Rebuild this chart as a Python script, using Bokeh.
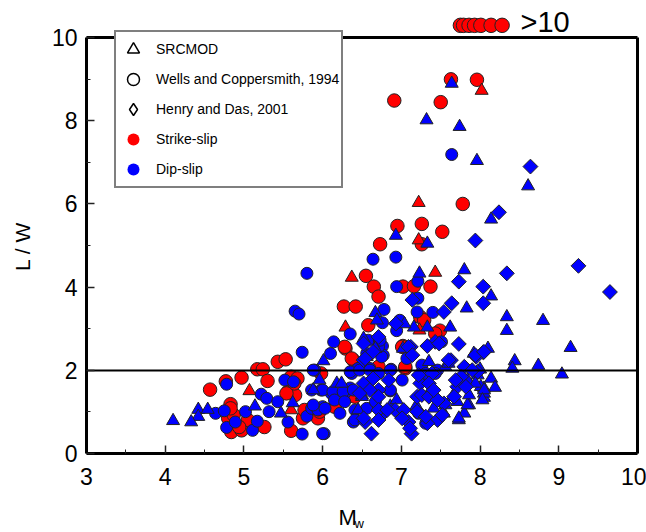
import math
from bokeh.plotting import figure
from bokeh.models import (Range1d, FixedTicker, LinearAxis, Label,
                          Legend, LegendItem)
from bokeh.embed import file_html
from bokeh.resources import INLINE

FONT = "Liberation Sans"
NAN = float("nan")

# ---------------- data ----------------
# Wells & Coppersmith, strike-slip, L/W > 10 (drawn above the frame)
ss_over_mw = [7.75, 7.79, 7.86, 7.93, 8.01, 8.14, 8.28]
ss_over_lw = [10.3, 10.3, 10.3, 10.3, 10.3, 10.3, 10.3]

# Wells & Coppersmith, strike-slip (red circles)
ss_wc_mw = [7.63, 7.96, 6.91, 7.50, 7.78, 6.95, 7.26, 7.52, 6.73, 7.26, 6.55, 6.65,
            6.71, 7.02, 7.16, 7.37, 7.24, 7.29, 7.49, 6.27, 6.42, 6.58, 6.29, 7.02,
            6.39, 7.05, 5.94, 5.43, 5.53, 5.17, 5.24, 5.30, 4.97, 4.77, 4.57, 5.60,
            5.56, 5.65, 4.83, 4.80, 4.87, 4.84, 4.97, 5.05, 5.26, 5.60, 5.75, 6.28,
            6.37, 5.98, 6.71, 7.05, 7.01, 7.43, 5.77, 5.96, 6.15, 6.41, 4.83, 4.94,
            5.68, 5.64, 5.54]
ss_wc_lw = [9.00, 8.99, 8.49, 8.45, 6.00, 5.47, 5.52, 5.33, 5.03, 5.03, 4.27, 4.01,
            3.77, 4.01, 4.02, 4.01, 3.28, 3.20, 2.95, 3.53, 3.53, 3.08, 2.52, 2.58,
            2.24, 2.04, 0.84, 2.20, 2.26, 2.02, 2.02, 1.74, 1.82, 1.73, 1.53, 1.84,
            1.48, 1.40, 1.18, 0.84, 0.92, 0.51, 0.55, 0.80, 0.63, 0.54, 0.84, 2.56,
            2.28, 1.92, 2.08, 2.08, 2.56, 2.88, 1.04, 1.00, 1.12, 1.36, 1.08, 0.63,
            1.80, 1.68, 1.44]

# SRCMOD, strike-slip (red triangles)
ss_src_mw = [8.02, 7.22, 7.22, 6.37, 7.43, 6.29, 7.23, 5.07, 5.60]
ss_src_lw = [8.73, 6.03, 5.13, 4.23, 4.35, 3.03, 2.96, 1.50, 1.04]

# Wells & Coppersmith, dip-slip (blue circles)
ds_wc_mw = [7.64, 6.64, 6.93, 6.94, 7.21, 7.40, 7.21, 7.20, 7.51, 6.78, 6.76, 6.94,
            6.98, 6.35, 6.58, 6.72, 6.76, 6.77, 7.07, 6.14, 6.10, 6.45, 6.60, 6.87,
            7.01, 7.26, 7.46, 7.22, 7.31, 6.56, 6.86, 6.39, 6.02, 6.28, 6.22, 6.00,
            6.11, 6.37, 5.98, 6.35, 5.80, 5.65, 5.70, 5.74, 5.90, 4.78, 5.52, 5.63,
            5.22, 5.29, 5.43, 4.64, 4.75, 4.78, 4.89, 5.02, 5.11, 5.17, 5.32, 5.56,
            5.74, 5.80, 5.86, 5.94, 5.88, 5.86, 6.00, 6.13, 6.26, 6.39, 5.88, 6.03,
            6.15, 6.28, 6.41, 6.56, 6.67, 6.56, 6.75, 6.71, 6.73, 6.86, 6.35, 6.47,
            6.60, 6.71, 6.86, 6.00, 6.41, 7.31, 7.43, 7.31]
ds_wc_lw = [7.19, 4.67, 4.72, 4.01, 4.14, 3.39, 3.73, 3.40, 2.68, 3.46, 3.14, 2.95,
            3.20, 2.87, 2.72, 2.72, 2.58, 2.36, 2.28, 2.68, 2.40, 2.04, 2.04, 2.02,
            1.76, 2.12, 2.00, 0.96, 1.76, 1.64, 1.50, 0.75, 0.47, 1.44, 0.96, 1.12,
            1.44, 1.92, 1.52, 1.57, 4.33, 3.42, 3.35, 2.43, 2.00, 1.66, 1.76, 1.72,
            1.42, 1.32, 1.24, 0.96, 1.02, 0.62, 0.75, 1.00, 0.55, 0.77, 1.00, 0.75,
            0.46, 0.89, 1.08, 1.04, 2.00, 1.52, 1.52, 1.48, 1.48, 1.52, 1.16, 1.08,
            1.28, 1.24, 1.04, 1.08, 1.24, 2.40, 2.32, 2.56, 2.72, 2.00, 1.96, 2.00,
            2.00, 1.92, 1.52, 0.47, 0.80, 1.92, 1.92, 0.72]

# SRCMOD, dip-slip (blue triangles)
ds_src_mw = [7.64, 7.32, 7.74, 7.96, 8.61, 8.14, 6.93, 7.33, 8.14, 8.34, 8.80, 8.34,
             9.15, 8.10, 8.44, 8.41, 8.74, 9.04, 8.00, 7.97, 8.14, 8.19, 8.05, 8.05,
             7.23, 7.80, 7.83, 7.16, 7.33, 7.62, 6.67, 6.69, 7.04, 6.52, 6.67, 7.02,
             6.01, 6.56, 7.56, 7.92, 7.84, 7.65, 7.86, 7.73, 7.54, 7.19, 6.86, 6.94,
             6.45, 6.18, 6.50, 8.01, 8.05, 7.80, 5.88, 5.14, 4.42, 4.54, 4.42, 4.10,
             4.33, 5.47, 5.62, 5.96, 6.24, 6.50, 7.41, 7.56, 7.71, 7.84, 7.73, 7.35,
             7.60, 7.94, 8.05, 8.03, 7.86]
ds_src_lw = [8.90, 8.02, 7.86, 7.04, 6.43, 5.63, 5.24, 5.05, 3.78, 3.28, 3.19, 2.95,
             2.54, 2.52, 2.22, 2.04, 2.11, 1.90, 2.02, 1.88, 1.80, 1.58, 1.56, 1.34,
             4.33, 4.41, 3.49, 3.03, 3.03, 3.03, 3.38, 3.20, 3.11, 2.76, 2.52, 2.52,
             2.22, 2.32, 2.08, 2.40, 1.76, 1.36, 1.16, 0.80, 0.96, 1.14, 1.13, 1.28,
             1.04, 1.68, 1.40, 1.60, 1.44, 0.96, 1.52, 1.13, 1.05, 1.05, 0.88, 0.78,
             0.75, 0.96, 1.21, 1.76, 1.68, 1.36, 1.08, 1.16, 1.24, 1.16, 0.84, 2.20,
             2.16, 1.68, 1.52, 1.28, 1.40]

# Henry & Das 2001 (blue diamonds)
hd_mw = [8.64, 8.24, 7.94, 9.25, 8.34, 9.65, 8.04, 8.04, 8.04, 7.95, 7.73, 7.64,
         7.54, 7.14, 7.43, 7.73, 7.33, 6.93, 7.12, 6.52, 7.39, 7.63, 7.80, 7.97,
         7.76, 7.71, 7.54, 7.37, 7.46, 7.33, 7.24, 7.20, 7.13, 7.09, 6.92, 6.62,
         6.77, 6.54, 6.71, 6.62, 6.52, 6.54, 6.64, 6.71, 6.52, 6.60, 6.71, 6.47,
         6.64, 6.84, 6.71, 6.82, 7.03, 6.52, 6.71, 7.01, 7.11, 7.09, 7.14, 7.22,
         7.35, 7.26, 7.35, 7.46, 7.41, 7.20, 7.31, 7.52, 7.60, 7.69, 7.82, 7.67,
         7.90, 7.94, 8.05, 7.48]
hd_lw = [6.90, 5.80, 5.12, 4.51, 4.33, 3.88, 4.01, 3.61, 2.43, 2.32, 4.13, 3.61,
         3.40, 3.69, 2.68, 2.63, 2.58, 3.12, 2.56, 2.24, 1.92, 2.24, 2.08, 1.96,
         1.84, 1.60, 1.20, 1.44, 0.80, 0.72, 1.68, 1.36, 0.47, 0.75, 1.04, 0.47,
         0.96, 0.75, 1.52, 1.76, 2.64, 2.28, 2.44, 2.80, 1.68, 1.52, 1.36, 1.44,
         1.80, 1.76, 1.04, 1.04, 1.04, 0.84, 0.80, 0.84, 0.60, 2.56, 2.36, 1.88,
         1.68, 1.40, 1.36, 1.28, 1.52, 1.00, 0.88, 0.92, 2.24, 1.76, 1.60, 1.36,
         2.00, 2.36, 2.44, 2.64]

x_ticks = [3, 4, 5, 6, 7, 8, 9, 10]
x_minor = [3.5, 4.5, 5.5, 6.5, 7.5, 8.5, 9.5]
y_ticks = [0, 2, 4, 6, 8, 10]
y_minor = [1, 3, 5, 7, 9]
threshold = 2
x_lo, x_hi = 3, 10
y_lo, y_hi = 0, 10

# ---------------- layout (pixels of the 646x532 page) ----------------
W, H = 646, 532
FL, FR, FT, FB = 86, 637, 37.3, 452.7          # frame box in page pixels
kx = (FR - FL) / (x_hi - x_lo)
ky = (FB - FT) / (y_hi - y_lo)


def px_x(px):
    return x_lo + (px - FL) / kx


def px_y(py):
    return y_lo + (FB - py) / ky


p = figure(width=W, height=H, output_backend="svg", toolbar_location=None,
           x_range=Range1d(px_x(0), px_x(W)), y_range=Range1d(px_y(H), px_y(0)),
           x_axis_type=None, y_axis_type=None, min_border=0)
p.grid.visible = False
p.outline_line_color = None
p.background_fill_color = "white"
p.border_fill_color = "white"


def style_axis(ax):
    ax.axis_line_width = 3
    ax.axis_line_color = "black"
    ax.major_tick_in = 8
    ax.major_tick_out = 0
    ax.minor_tick_in = 4
    ax.minor_tick_out = 0
    ax.major_tick_line_width = 1.5
    ax.minor_tick_line_width = 1
    ax.major_tick_line_color = "#222222"
    ax.minor_tick_line_color = "#222222"
    ax.major_label_text_font = FONT
    ax.major_label_text_font_size = "23px"
    ax.major_label_text_color = "black"


xaxis = LinearAxis(fixed_location=y_lo, bounds=(x_lo, x_hi),
                   ticker=FixedTicker(ticks=x_ticks, minor_ticks=x_minor))
style_axis(xaxis)
xaxis.major_label_standoff = 15
p.add_layout(xaxis, "below")

yaxis = LinearAxis(fixed_location=x_lo, bounds=(y_lo, y_hi),
                   ticker=FixedTicker(ticks=y_ticks, minor_ticks=y_minor))
style_axis(yaxis)
yaxis.major_label_standoff = 9
p.add_layout(yaxis, "left")


def plain_line_axis(loc, bounds, width):
    return LinearAxis(fixed_location=loc, bounds=bounds, ticker=FixedTicker(ticks=[]),
                      axis_line_width=width, axis_line_color="black",
                      major_tick_line_color=None, minor_tick_line_color=None,
                      major_label_standoff=0, major_label_text_font_size="0px")


p.add_layout(plain_line_axis(x_hi, (y_lo, y_hi), 3), "right")
p.add_layout(plain_line_axis(y_hi, (x_lo, x_hi), 3), "above")
p.add_layout(plain_line_axis(threshold, (x_lo, x_hi), 2), "below")

# ---------------- data marks ----------------
p.scatter(ss_wc_mw, ss_wc_lw, marker="circle", size=13.5, fill_color="red",
          line_color="#222222", line_width=1)
p.scatter(ss_over_mw, ss_over_lw, marker="circle", size=14.5, fill_color="red",
          line_color="#222222", line_width=1)
p.scatter(ss_src_mw, ss_src_lw, marker="triangle", size=13, fill_color="red",
          line_color="#222222", line_width=1)
p.scatter(ds_wc_mw, ds_wc_lw, marker="circle", size=12, fill_color="blue",
          line_color="#222222", line_width=1)
p.scatter(ds_src_mw, ds_src_lw, marker="triangle", size=13, fill_color="blue",
          line_color="#222222", line_width=1)
p.scatter(hd_mw, hd_lw, marker="square", angle=math.pi / 4, size=10.5,
          fill_color="blue", line_color="#222222", line_width=1)

# ---------------- texts ----------------
p.add_layout(Label(x=px_x(520), y=px_y(21), text=">10", text_font=FONT,
                   text_font_size="29px", text_baseline="middle", text_color="black"))
p.add_layout(Label(x=px_x(338), y=px_y(517), text="M", text_font=FONT,
                   text_font_size="22px", text_baseline="alphabetic", text_color="black"))
p.add_layout(Label(x=px_x(354), y=px_y(523), text="w", text_font=FONT,
                   text_font_size="13px", text_baseline="alphabetic", text_color="black"))
p.add_layout(Label(x=px_x(22), y=px_y(246), text="L / W", text_font=FONT,
                   text_font_size="21px", text_baseline="middle", text_align="center",
                   angle=math.pi / 2, text_color="black"))

# ---------------- legend ----------------
l1 = p.scatter([NAN], [NAN], marker="triangle", fill_color=None, line_color="black", line_width=1.5)
l2 = p.scatter([NAN], [NAN], marker="circle", fill_color=None, line_color="black", line_width=1.5)
l3 = p.scatter([NAN], [NAN], marker="diamond", fill_color=None, line_color="black", line_width=1.5)
l4 = p.scatter([NAN], [NAN], marker="circle", fill_color="red", line_color=None)
l5 = p.scatter([NAN], [NAN], marker="circle", fill_color="blue", line_color=None)

legend = Legend(items=[LegendItem(label="SRCMOD", renderers=[l1]),
                       LegendItem(label="Wells and Coppersmith, 1994", renderers=[l2]),
                       LegendItem(label="Henry and Das, 2001", renderers=[l3]),
                       LegendItem(label="Strike-slip", renderers=[l4]),
                       LegendItem(label="Dip-slip", renderers=[l5])],
                location=(114, H - 188), glyph_height=30, glyph_width=30, spacing=-7,
                padding=2, margin=0, label_standoff=8, label_height=20,
                label_text_font=FONT, label_text_font_size="14px",
                label_text_color="black", border_line_color="black",
                border_line_width=2, background_fill_color="white",
                background_fill_alpha=1)
p.add_layout(legend, "center")

open("out.html", "w").write(file_html(p, INLINE))
